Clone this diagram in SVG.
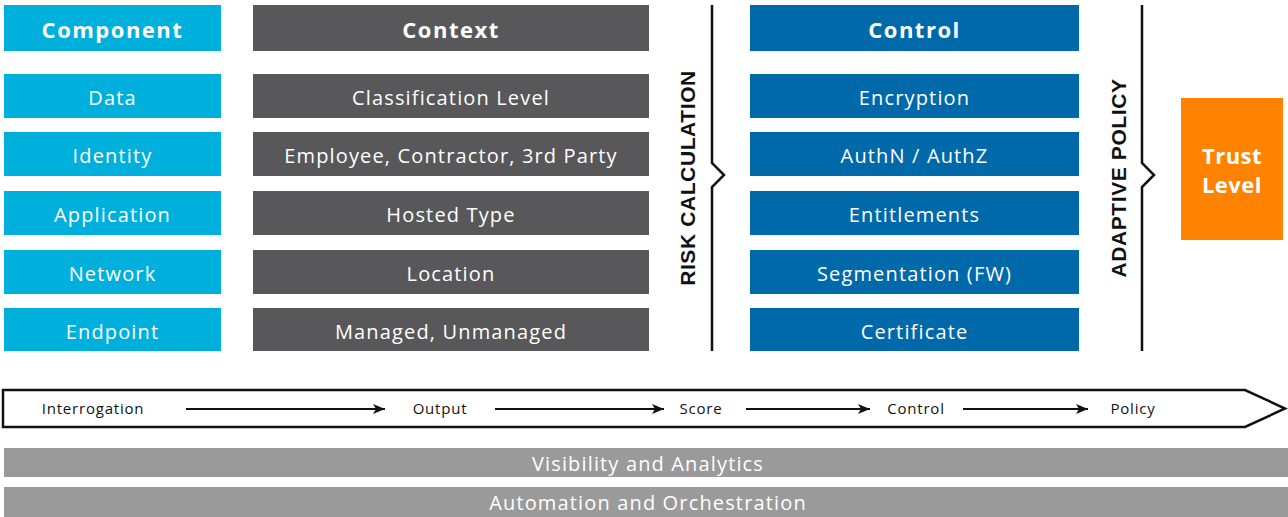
<svg xmlns="http://www.w3.org/2000/svg" width="1288" height="517" viewBox="0 0 1288 517">
<style>
.cmp{fill:#00b0dc}
.ctx{fill:#58585b}
.ctl{fill:#0069aa}
.hd{font-family:"Open Sans","Liberation Sans",sans-serif;font-weight:bold;font-size:22px;letter-spacing:1.5px;fill:#fff;text-anchor:middle}
.tl{font-family:"Open Sans","Liberation Sans",sans-serif;font-weight:bold;font-size:22px;letter-spacing:0.5px;fill:#fff;text-anchor:middle}
.tx{font-family:"Open Sans","Liberation Sans",sans-serif;font-size:20px;letter-spacing:1.15px;fill:#fff;text-anchor:middle}
.vt{font-family:"Liberation Sans",Arial,sans-serif;font-weight:bold;font-size:21px;letter-spacing:0.6px;fill:#111;text-anchor:middle}
.fl{font-family:"Open Sans","Liberation Sans",sans-serif;font-size:15px;letter-spacing:0.8px;fill:#111;text-anchor:middle}
.bar{fill:#9a9a9b}
.ln{fill:none;stroke:#111;stroke-width:2.5}
.ar{stroke:#111;stroke-width:2;fill:none}
</style>
<defs>
<marker id="ah" viewBox="0 0 12 10" refX="12" refY="5" markerWidth="12" markerHeight="10" markerUnits="userSpaceOnUse" orient="auto">
<path d="M0,0 L12,5 L0,10 L3,5 Z" fill="#111"/>
</marker>
</defs>
<g id="component">
<rect class="cmp" x="4" y="5" width="217" height="46"/><text class="hd" x="112.5" y="38">Component</text>
<rect class="cmp" x="4" y="74" width="217" height="44"/><text class="tx" x="112.5" y="105">Data</text>
<rect class="cmp" x="4" y="132" width="217" height="44"/><text class="tx" x="112.5" y="163">Identity</text>
<rect class="cmp" x="4" y="191" width="217" height="44"/><text class="tx" x="112.5" y="222">Application</text>
<rect class="cmp" x="4" y="250" width="217" height="44"/><text class="tx" x="112.5" y="281">Network</text>
<rect class="cmp" x="4" y="308" width="217" height="43"/><text class="tx" x="112.5" y="339">Endpoint</text>
</g>
<g id="context">
<rect class="ctx" x="253" y="5" width="396" height="46"/><text class="hd" x="451" y="38">Context</text>
<rect class="ctx" x="253" y="74" width="396" height="44"/><text class="tx" x="451" y="105">Classification Level</text>
<rect class="ctx" x="253" y="132" width="396" height="44"/><text class="tx" x="451" y="163">Employee, Contractor, 3rd Party</text>
<rect class="ctx" x="253" y="191" width="396" height="44"/><text class="tx" x="451" y="222">Hosted Type</text>
<rect class="ctx" x="253" y="250" width="396" height="44"/><text class="tx" x="451" y="281">Location</text>
<rect class="ctx" x="253" y="308" width="396" height="43"/><text class="tx" x="451" y="339">Managed, Unmanaged</text>
</g>
<g id="risk-calculation">
<path class="ln" d="M712,5 V163 L724,175 L712,187 V351"/>
<text class="vt" transform="translate(695,178) rotate(-90)">RISK CALCULATION</text>
</g>
<g id="control">
<rect class="ctl" x="750" y="5" width="329" height="46"/><text class="hd" x="914.5" y="38">Control</text>
<rect class="ctl" x="750" y="74" width="329" height="44"/><text class="tx" x="914.5" y="105">Encryption</text>
<rect class="ctl" x="750" y="132" width="329" height="44"/><text class="tx" x="914.5" y="163">AuthN / AuthZ</text>
<rect class="ctl" x="750" y="191" width="329" height="44"/><text class="tx" x="914.5" y="222">Entitlements</text>
<rect class="ctl" x="750" y="250" width="329" height="44"/><text class="tx" x="914.5" y="281">Segmentation (FW)</text>
<rect class="ctl" x="750" y="308" width="329" height="43"/><text class="tx" x="914.5" y="339">Certificate</text>
</g>
<g id="adaptive-policy">
<path class="ln" d="M1142,5 V163 L1154,175 L1142,187 V351"/>
<text class="vt" transform="translate(1126,178) rotate(-90)">ADAPTIVE POLICY</text>
</g>
<g id="trust-level">
<rect x="1181" y="98" width="102" height="142" fill="#ff8300"/>
<text class="tl" x="1232" y="164">Trust</text>
<text class="tl" x="1232" y="193">Level</text>
</g>
<g id="flow">
<path d="M3,390 H1245 L1285,408.5 L1245,427 H3 Z" fill="#fff" stroke="#111" stroke-width="2.5"/>
<text class="fl" x="93" y="414">Interrogation</text>
<text class="fl" x="440" y="414">Output</text>
<text class="fl" x="701" y="414">Score</text>
<text class="fl" x="916" y="414">Control</text>
<text class="fl" x="1133" y="414">Policy</text>
</g>
<g id="connectors">
<line class="ar" x1="186" y1="409" x2="385" y2="409" marker-end="url(#ah)"/>
<line class="ar" x1="495" y1="409" x2="664" y2="409" marker-end="url(#ah)"/>
<line class="ar" x1="746" y1="409" x2="870" y2="409" marker-end="url(#ah)"/>
<line class="ar" x1="963" y1="409" x2="1088" y2="409" marker-end="url(#ah)"/>
</g>
<g id="visibility">
<rect class="bar" x="4" y="448" width="1284" height="29"/>
<text class="tx" x="648" y="471">Visibility and Analytics</text>
</g>
<g id="automation">
<rect class="bar" x="4" y="487" width="1284" height="30"/>
<text class="tx" x="648" y="510">Automation and Orchestration</text>
</g>
</svg>
